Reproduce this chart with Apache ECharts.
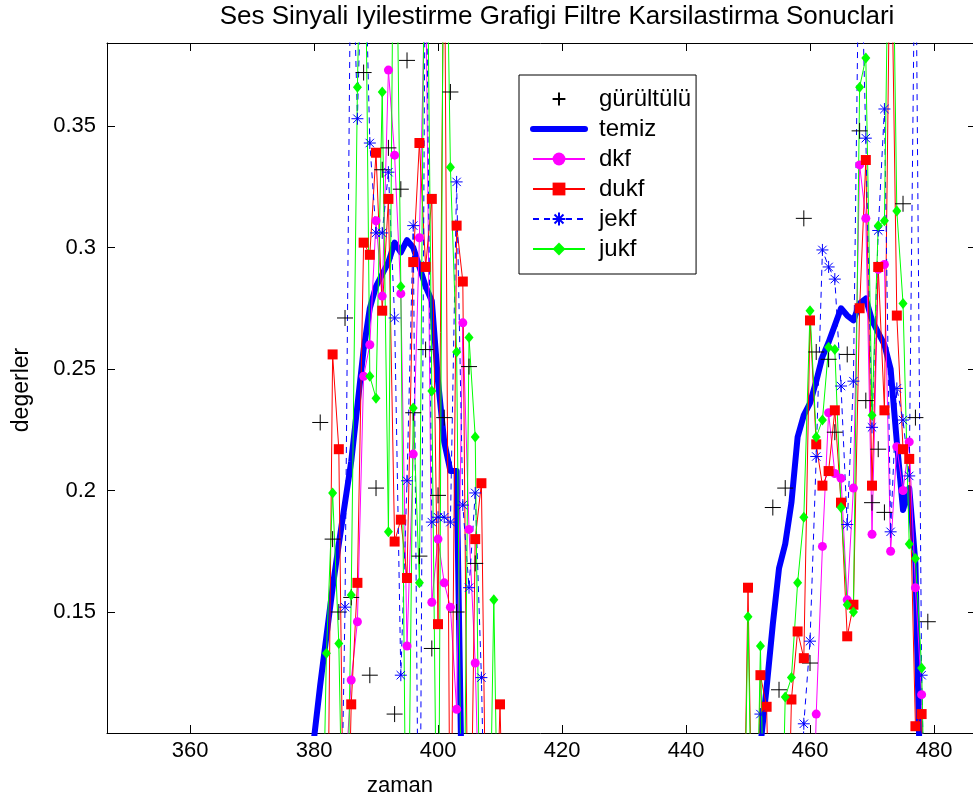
<!DOCTYPE html>
<html><head><meta charset="utf-8">
<script src="https://cdn.jsdelivr.net/npm/echarts@6/dist/echarts.min.js"></script>
<style>html,body{margin:0;padding:0;background:#fff}#c{width:973px;height:805px}</style>
</head><body><div id="c"></div>
<script>
const titleText = 'Ses Sinyali Iyilestirme Grafigi Filtre Karsilastirma Sonuclari';
const xName = 'zaman';
const yName = 'degerler';
const seriesNames = ['gürültülü', 'temiz', 'dkf', 'dukf', 'jekf', 'jukf'];

const xLeft = [378,379,380,381,382,383,384,385,386,387,388,389,390,391,392,393,394,395,396,397,398,399,400,401,402,403,404,405,406,407,408,409,410,411];
const xRight = [448,449,450,451,452,453,454,455,456,457,458,459,460,461,462,463,464,465,466,467,468,469,470,471,472,473,474,475,476,477,478,479,480,481];

const gurultuluLeft = [0.03,0.05,0.04,0.228,0.43,0.180,0.150,0.271,0.156,0.44,0.372,0.124,0.201,0.332,0.341,0.108,0.324,0.377,0.232,0.173,0.258,0.135,0.198,0.230,0.364,0.150,0.42,0.251,0.170,0.06,0.04,0.07,0.03,0.05];
const temizLeft = [0.06,0.075,0.098,0.12,0.14,0.16,0.178,0.195,0.212,0.235,0.258,0.275,0.284,0.289,0.294,0.302,0.298,0.303,0.300,0.292,0.284,0.278,0.245,0.220,0.208,0.208,0.05,0.04,0.05,0.04,0.03,0.04,0.03,0.02];
const dkfLeft = [0.00,0.01,0.02,0.03,0.04,0.03,0.06,0.08,0.122,0.146,0.247,0.260,0.311,0.280,0.373,0.338,0.281,0.136,0.215,0.304,0.42,0.154,0.180,0.162,0.152,0.110,0.269,0.184,0.129,0.03,0.02,0.01,0.00,0.00];
const dukfLeft = [0.00,0.00,0.01,0.02,0.00,0.256,0.217,0.00,0.112,0.162,0.302,0.297,0.339,0.274,0.320,0.179,0.188,0.164,0.294,0.343,0.292,0.320,0.145,0.45,0.02,0.309,0.286,0.00,0.180,0.203,0.00,0.02,0.112,0.00];
const jekfLeft = [0.00,0.01,0.02,0.00,0.03,0.02,0.00,0.152,0.45,0.353,0.45,0.343,0.306,0.306,0.331,0.271,0.124,0.204,0.309,0.00,0.45,0.187,0.189,0.189,0.187,0.327,0.194,0.160,0.199,0.123,0.00,0.01,0.00,0.00];
const jukfLeft = [0.00,0.01,0.00,0.00,0.133,0.199,0.137,0.00,0.157,0.366,0.50,0.247,0.238,0.364,0.183,0.50,0.284,0.00,0.234,0.162,0.50,0.241,0.00,0.50,0.333,0.257,0.00,0.263,0.222,0.00,0.00,0.155,0.00,0.00];

const gurultuluRight = [0.03,0.02,0.05,0.04,0.07,0.09,0.193,0.118,0.201,0.43,0.06,0.312,0.129,0.257,0.41,0.254,0.224,0.42,0.256,0.05,0.348,0.237,0.195,0.217,0.191,0.07,0.40,0.318,0.05,0.230,0.06,0.146,0.03,0.02];
const temizRight = [0.03,0.04,0.05,0.07,0.095,0.119,0.145,0.168,0.178,0.195,0.222,0.231,0.236,0.245,0.255,0.261,0.268,0.275,0.272,0.270,0.277,0.279,0.270,0.265,0.260,0.250,0.220,0.192,0.201,0.170,0.05,0.04,0.03,0.02];
const dkfRight = [0.00,0.01,0.02,0.00,0.03,0.01,0.02,0.00,0.03,0.04,0.02,0.01,0.00,0.108,0.177,0.232,0.207,0.205,0.155,0.201,0.334,0.312,0.182,0.291,0.293,0.175,0.218,0.200,0.220,0.160,0.116,0.00,0.01,0.00];
const dukfRight = [0.00,0.00,0.160,0.00,0.124,0.111,0.00,0.01,0.00,0.114,0.142,0.131,0.270,0.219,0.202,0.208,0.233,0.195,0.140,0.153,0.275,0.336,0.202,0.292,0.233,0.45,0.272,0.217,0.213,0.103,0.108,0.00,0.01,0.00];
const jekfRight = [0.00,0.01,0.00,0.00,0.108,0.00,0.02,0.01,0.03,0.02,0.00,0.104,0.138,0.214,0.299,0.292,0.287,0.243,0.186,0.245,0.45,0.345,0.226,0.307,0.357,0.183,0.242,0.229,0.206,0.45,0.124,0.00,0.01,0.00];
const jukfRight = [0.00,0.00,0.148,0.00,0.136,0.00,0.00,0.00,0.115,0.123,0.162,0.189,0.274,0.222,0.229,0.259,0.258,0.193,0.153,0.150,0.366,0.378,0.231,0.309,0.311,0.50,0.315,0.277,0.178,0.172,0.127,0.00,0.00,0.00];

const xTickLabels = ['360','380','400','420','440','460','480'];
const yTickLabels = ['0.15','0.2','0.25','0.3','0.35'];

function pairs(left, right) {
  return xLeft.map((x, i) => [x, left[i]]).concat(xRight.map((x, i) => [x, right[i]]));
}

const FONT = 'Liberation Sans, Arial, sans-serif';
const X_MIN = 346.61, X_MAX = 486.77, Y_MIN = 0.10021, Y_MAX = 0.38416;

const chart = echarts.init(document.getElementById('c'), null, {renderer: 'canvas'});

const plusPath = 'path://M0,5L10,5M5,0L5,10';
const starPath = 'path://M0,5L10,5M5,0L5,10M1.5,1.5L8.5,8.5M1.5,8.5L8.5,1.5';

function xFmt(v) {
  const k = Math.round(v / 20);
  if (Math.abs(v - k * 20) < 1e-6) {
    const s = String(k * 20);
    return xTickLabels.indexOf(s) >= 0 ? s : '';
  }
  return '';
}
function yFmt(v) {
  const k = Math.round(v / 0.05);
  if (Math.abs(v - k * 0.05) < 1e-7) {
    const s = String(+(k * 0.05).toFixed(2));
    return yTickLabels.indexOf(s) >= 0 ? s : '';
  }
  return '';
}

const axisCommon = {
  axisLine: {show: true, onZero: false, lineStyle: {color: '#000', width: 1}},
  axisTick: {show: true, inside: true, length: 8, lineStyle: {color: '#000', width: 1}},
  splitLine: {show: false},
};

const option = {
  animation: false,
  backgroundColor: '#fff',
  grid: {left: 107, top: 43, width: 869, height: 690, containLabel: false, outerBoundsMode: 'none'},
  xAxis: [
    Object.assign({type: 'value', position: 'bottom', min: X_MIN, max: X_MAX, splitNumber: 7, minInterval: 20, maxInterval: 20,
      axisLabel: {show: true, formatter: xFmt, color: '#000', fontSize: 22, fontFamily: FONT, margin: 7, hideOverlap: false}}, axisCommon),
    Object.assign({type: 'value', position: 'top', min: X_MIN, max: X_MAX, splitNumber: 7, minInterval: 20, maxInterval: 20,
      axisLabel: {show: false}}, axisCommon)
  ],
  yAxis: [
    Object.assign({type: 'value', position: 'left', min: Y_MIN, max: Y_MAX, splitNumber: 6, minInterval: 0.05, maxInterval: 0.05,
      axisLabel: {show: true, formatter: yFmt, color: '#000', fontSize: 22, fontFamily: FONT, margin: 11, hideOverlap: false}}, axisCommon),
    Object.assign({type: 'value', position: 'right', min: Y_MIN, max: Y_MAX, splitNumber: 6, minInterval: 0.05, maxInterval: 0.05,
      axisLabel: {show: false}}, axisCommon)
  ],
  legend: {
    orient: 'vertical', left: 519, top: 75,
    padding: [12, 5, 13, 11],
    itemWidth: 52, itemHeight: 16, itemGap: 6,
    backgroundColor: '#fff', borderColor: '#000', borderWidth: 1, borderRadius: 0,
    textStyle: {fontSize: 24, fontFamily: FONT, color: '#000', padding: [0, 0, 0, 9]},
    data: [
      {name: seriesNames[0]},
      {name: seriesNames[1], itemStyle: {opacity: 0}, lineStyle: {width: 6}},
      {name: seriesNames[2]},
      {name: seriesNames[3]},
      {name: seriesNames[4]},
      {name: seriesNames[5]}
    ],
    selectedMode: false
  },
  graphic: [
    {type: 'text', x: 557, y: 17, style: {text: titleText, font: '26px ' + FONT, fill: '#000', align: 'center', verticalAlign: 'middle'}},
    {type: 'text', x: 400, y: 786, style: {text: xName, font: '22px ' + FONT, fill: '#000', align: 'center', verticalAlign: 'middle'}},
    {type: 'text', x: 22, y: 390, rotation: Math.PI / 2, style: {text: yName, font: '23px ' + FONT, fill: '#000', align: 'center', verticalAlign: 'middle'}}
  ],
  series: [
    {name: seriesNames[0], type: 'line', data: pairs(gurultuluLeft, gurultuluRight),
      symbol: plusPath, symbolSize: 16, showSymbol: true,
      itemStyle: {color: '#000', borderColor: '#000', borderWidth: 1},
      lineStyle: {width: 0, opacity: 0, color: 'rgba(0,0,0,0)'}, emphasis: {disabled: true}, silent: true},
    {name: seriesNames[1], type: 'line', data: pairs(temizLeft, temizRight),
      symbol: 'none', itemStyle: {color: '#0000ff'},
      lineStyle: {width: 6, color: '#0000ff', cap: 'round', join: 'round'}, emphasis: {disabled: true}, silent: true},
    {name: seriesNames[2], type: 'line', data: pairs(dkfLeft, dkfRight),
      symbol: 'circle', symbolSize: 9, itemStyle: {color: '#ff00ff', borderWidth: 0},
      lineStyle: {width: 1, color: '#ff00ff'}, emphasis: {disabled: true}, silent: true},
    {name: seriesNames[3], type: 'line', data: pairs(dukfLeft, dukfRight),
      symbol: 'rect', symbolSize: 10, itemStyle: {color: '#ff0000', borderWidth: 0},
      lineStyle: {width: 1, color: '#ff0000'}, emphasis: {disabled: true}, silent: true},
    {name: seriesNames[4], type: 'line', data: pairs(jekfLeft, jekfRight),
      symbol: starPath, symbolSize: 12, itemStyle: {color: '#0000ff', borderColor: '#0000ff', borderWidth: 1},
      lineStyle: {width: 1, color: '#0000ff', type: [6, 5]}, emphasis: {disabled: true}, silent: true},
    {name: seriesNames[5], type: 'line', data: pairs(jukfLeft, jukfRight),
      symbol: 'diamond', symbolSize: [9, 11], itemStyle: {color: '#00ff00', borderWidth: 0},
      lineStyle: {width: 1, color: '#00ff00'}, emphasis: {disabled: true}, silent: true}
  ]
};
chart.setOption(option);
</script></body></html>
